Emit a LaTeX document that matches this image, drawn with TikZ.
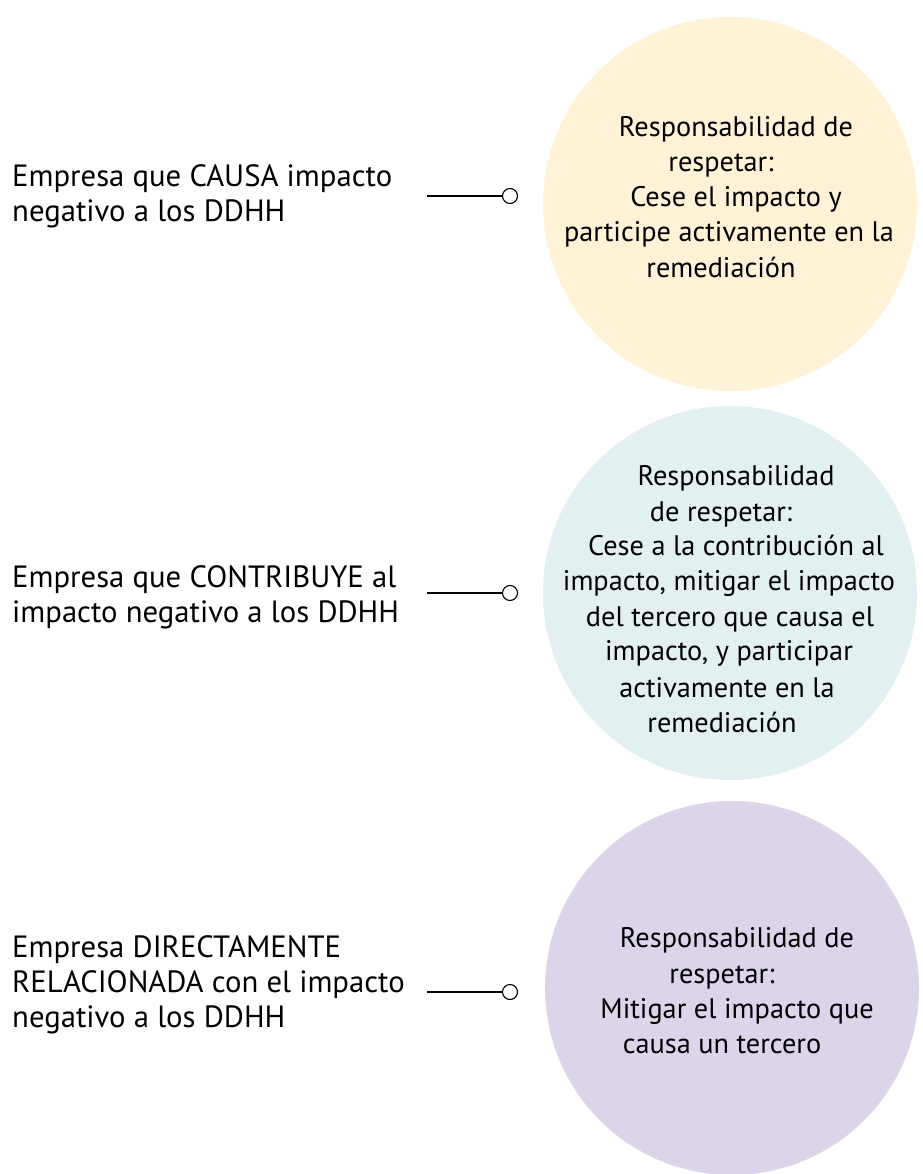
\documentclass[tikz,border=0pt]{standalone}
\usepackage{fontspec}
\setmainfont{PT Sans}
\definecolor{cyel}{HTML}{FFF2D7}
\definecolor{ccya}{HTML}{E2F0F1}
\definecolor{clav}{HTML}{DCD5EA}
\newlength\reflen
\newlength\reflenb
\begin{document}
\settowidth\reflen{\fontsize{10pt}{12pt}\selectfont Empresa que CAUSA impacto}%
\settowidth\reflenb{\fontsize{10pt}{12pt}\selectfont participe activamente en la}%
\pgfmathsetmacro\fsz{10*380/\reflen}%
\pgfmathsetmacro\fszb{10*330/\reflenb}%
\begin{tikzpicture}[x=1pt,y=-1pt]
\tikzset{
  txt/.style={font=\fontsize{\fszb pt}{35pt}\selectfont, inner sep=0pt, anchor=base, text=black},
  ltxt/.style={font=\fontsize{\fsz pt}{35pt}\selectfont, inner sep=0pt, anchor=base west, text=black},
  bigc/.style={circle, draw=none, minimum size=374pt, inner sep=0pt},
  dot/.style={circle, draw=black, fill=white, line width=1.1pt, minimum size=15pt, inner sep=0pt},
  conn/.style={draw=black, line width=1.1pt}
}
\useasboundingbox (0,0) rectangle (922,1174);
\fill[white] (0,0) rectangle (922,1174);
% big circles
\node[bigc, fill=cyel] (C1) at (730,204) {};
\node[bigc, fill=ccya] (C2) at (730,593) {};
\node[bigc, fill=clav] (C3) at (732,988) {};
% left texts
\node[ltxt] (L1a) at (12,187) {Empresa que CAUSA impacto};
\node[ltxt] (L1b) at (12,222) {negativo a los DDHH};
\node[ltxt] (L2a) at (12,587) {Empresa que CONTRIBUYE al};
\node[ltxt] (L2b) at (12,622) {impacto negativo a los DDHH};
\node[ltxt] (L3a) at (12,957) {Empresa DIRECTAMENTE};
\node[ltxt] (L3b) at (12,992) {RELACIONADA con el impacto};
\node[ltxt] (L3c) at (12,1027) {negativo a los DDHH};
% connectors
\coordinate (S1) at (427,196);
\coordinate (S2) at (427,593);
\coordinate (S3) at (427,992);
\node[dot] (D1) at (510,196) {};
\node[dot] (D2) at (510,593) {};
\node[dot] (D3) at (510,992) {};
\draw[conn] (S1) -- (D1);
\draw[conn] (S2) -- (D2);
\draw[conn] (S3) -- (D3);
% circle 1 text
\node[txt] (T1a) at (736,137) {Responsabilidad de};
\node[txt] (T1b) at (721,172) {respetar:};
\node[txt] (T1c) at (736,207) {Cese el impacto y};
\node[txt] (T1d) at (729,242) {participe activamente en la};
\node[txt] (T1e) at (721,277) {remediación};
% circle 2 text
\node[txt] (T2a) at (736,485) {Responsabilidad};
\node[txt] (T2b) at (721,521) {de respetar:};
\node[txt] (T2c) at (736,555) {Cese a la contribución al};
\node[txt] (T2d) at (729,590) {impacto, mitigar el impacto};
\node[txt] (T2e) at (730,626) {del tercero que causa el};
\node[txt] (T2f) at (729,660) {impacto, y participar};
\node[txt] (T2g) at (727,697) {activamente en la};
\node[txt] (T2h) at (722,732) {remediación};
% circle 3 text
\node[txt] (T3a) at (737,947) {Responsabilidad de};
\node[txt] (T3b) at (722,983) {respetar:};
\node[txt] (T3c) at (737,1018) {Mitigar el impacto que};
\node[txt] (T3d) at (722,1053) {causa un tercero};
\end{tikzpicture}
\end{document}
